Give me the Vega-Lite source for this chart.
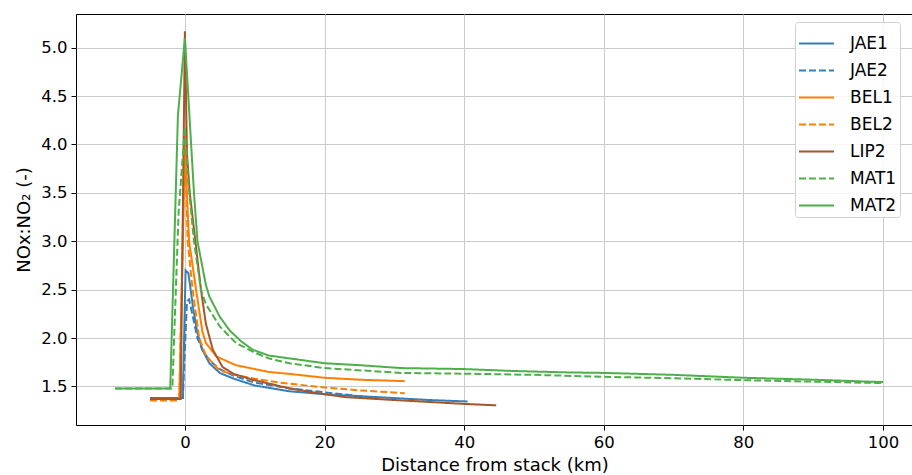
{
  "$schema": "https://vega.github.io/schema/vega-lite/v6.json",
  "autosize": "none",
  "width": 837,
  "height": 411,
  "padding": {"left": 76, "top": 14, "right": 0, "bottom": 50},
  "background": "white",
  "config": {
    "font": "DejaVu Sans",
    "view": {"stroke": "black", "strokeWidth": 1}
  },
  "data": {"values": [
    {"s":"JAE1","x":-5,"y":1.38},{"s":"JAE1","x":-0.3,"y":1.38},{"s":"JAE1","x":0.1,"y":2.70},{"s":"JAE1","x":0.5,"y":2.67},{"s":"JAE1","x":1.2,"y":2.30},{"s":"JAE1","x":1.8,"y":2.05},{"s":"JAE1","x":2.5,"y":1.88},{"s":"JAE1","x":3.5,"y":1.74},{"s":"JAE1","x":5,"y":1.64},{"s":"JAE1","x":7,"y":1.58},{"s":"JAE1","x":10,"y":1.51},{"s":"JAE1","x":15,"y":1.45},{"s":"JAE1","x":20,"y":1.42},{"s":"JAE1","x":25,"y":1.40},{"s":"JAE1","x":30,"y":1.38},{"s":"JAE1","x":35,"y":1.36},{"s":"JAE1","x":40.5,"y":1.345},
    {"s":"JAE2","x":-5,"y":1.38},{"s":"JAE2","x":-0.3,"y":1.38},{"s":"JAE2","x":0.3,"y":2.38},{"s":"JAE2","x":0.6,"y":2.40},{"s":"JAE2","x":1.2,"y":2.20},{"s":"JAE2","x":1.8,"y":2.00},{"s":"JAE2","x":2.5,"y":1.88},{"s":"JAE2","x":3.5,"y":1.77},{"s":"JAE2","x":5,"y":1.68},{"s":"JAE2","x":7,"y":1.61},{"s":"JAE2","x":10,"y":1.54},{"s":"JAE2","x":15,"y":1.48},{"s":"JAE2","x":20,"y":1.44},{"s":"JAE2","x":27,"y":1.385},
    {"s":"BEL1","x":-5,"y":1.37},{"s":"BEL1","x":-0.8,"y":1.37},{"s":"BEL1","x":0,"y":3.95},{"s":"BEL1","x":0.6,"y":3.0},{"s":"BEL1","x":1.6,"y":2.5},{"s":"BEL1","x":2.5,"y":2.07},{"s":"BEL1","x":3,"y":1.95},{"s":"BEL1","x":4.5,"y":1.81},{"s":"BEL1","x":7.3,"y":1.72},{"s":"BEL1","x":10,"y":1.68},{"s":"BEL1","x":12,"y":1.65},{"s":"BEL1","x":15,"y":1.63},{"s":"BEL1","x":20,"y":1.59},{"s":"BEL1","x":25,"y":1.57},{"s":"BEL1","x":31.5,"y":1.555},
    {"s":"BEL2","x":-5,"y":1.355},{"s":"BEL2","x":-0.8,"y":1.355},{"s":"BEL2","x":0,"y":4.15},{"s":"BEL2","x":0.4,"y":3.0},{"s":"BEL2","x":1.1,"y":2.5},{"s":"BEL2","x":2.05,"y":2.0},{"s":"BEL2","x":3,"y":1.82},{"s":"BEL2","x":4.9,"y":1.67},{"s":"BEL2","x":7,"y":1.62},{"s":"BEL2","x":10,"y":1.58},{"s":"BEL2","x":13.5,"y":1.54},{"s":"BEL2","x":20,"y":1.49},{"s":"BEL2","x":25,"y":1.46},{"s":"BEL2","x":31.5,"y":1.43},
    {"s":"LIP2","x":-5,"y":1.37},{"s":"LIP2","x":-0.6,"y":1.37},{"s":"LIP2","x":0,"y":5.17},{"s":"LIP2","x":0.3,"y":3.9},{"s":"LIP2","x":0.7,"y":3.5},{"s":"LIP2","x":1.5,"y":3.0},{"s":"LIP2","x":2.3,"y":2.5},{"s":"LIP2","x":3,"y":2.15},{"s":"LIP2","x":4,"y":1.88},{"s":"LIP2","x":5.4,"y":1.70},{"s":"LIP2","x":7,"y":1.63},{"s":"LIP2","x":9.7,"y":1.57},{"s":"LIP2","x":15,"y":1.48},{"s":"LIP2","x":20,"y":1.42},{"s":"LIP2","x":23,"y":1.39},{"s":"LIP2","x":30,"y":1.36},{"s":"LIP2","x":40,"y":1.32},{"s":"LIP2","x":44.6,"y":1.305},
    {"s":"MAT1","x":-10,"y":1.48},{"s":"MAT1","x":-1.8,"y":1.48},{"s":"MAT1","x":-0.9,"y":3.3},{"s":"MAT1","x":0,"y":4.18},{"s":"MAT1","x":0.5,"y":3.6},{"s":"MAT1","x":1.3,"y":3.0},{"s":"MAT1","x":2.3,"y":2.5},{"s":"MAT1","x":3,"y":2.35},{"s":"MAT1","x":5,"y":2.12},{"s":"MAT1","x":7.3,"y":1.95},{"s":"MAT1","x":10,"y":1.85},{"s":"MAT1","x":12,"y":1.79},{"s":"MAT1","x":15,"y":1.74},{"s":"MAT1","x":20,"y":1.69},{"s":"MAT1","x":31,"y":1.64},{"s":"MAT1","x":42,"y":1.63},{"s":"MAT1","x":50,"y":1.62},{"s":"MAT1","x":60,"y":1.60},{"s":"MAT1","x":70,"y":1.585},{"s":"MAT1","x":80,"y":1.565},{"s":"MAT1","x":90,"y":1.55},{"s":"MAT1","x":100,"y":1.535},
    {"s":"MAT2","x":-10,"y":1.48},{"s":"MAT2","x":-2.1,"y":1.48},{"s":"MAT2","x":-1.0,"y":4.3},{"s":"MAT2","x":0,"y":5.1},{"s":"MAT2","x":1.3,"y":3.5},{"s":"MAT2","x":1.8,"y":3.0},{"s":"MAT2","x":3,"y":2.55},{"s":"MAT2","x":3.5,"y":2.43},{"s":"MAT2","x":5,"y":2.22},{"s":"MAT2","x":6.4,"y":2.08},{"s":"MAT2","x":8,"y":1.97},{"s":"MAT2","x":9.7,"y":1.88},{"s":"MAT2","x":12,"y":1.82},{"s":"MAT2","x":15,"y":1.79},{"s":"MAT2","x":20,"y":1.74},{"s":"MAT2","x":25,"y":1.72},{"s":"MAT2","x":31,"y":1.69},{"s":"MAT2","x":40,"y":1.68},{"s":"MAT2","x":47,"y":1.66},{"s":"MAT2","x":55,"y":1.645},{"s":"MAT2","x":60,"y":1.64},{"s":"MAT2","x":70,"y":1.62},{"s":"MAT2","x":80,"y":1.59},{"s":"MAT2","x":90,"y":1.57},{"s":"MAT2","x":100,"y":1.545}
  ]},
  "mark": {"type": "line", "strokeWidth": 2, "clip": true},
  "encoding": {
    "x": {
      "field": "x", "type": "quantitative",
      "scale": {"domain": [-15.6, 104.3], "nice": false, "zero": false},
      "axis": {
        "title": "Distance from stack (km)",
        "values": [0, 20, 40, 60, 80, 100],
        "grid": true, "gridColor": "#cbcbcb", "gridWidth": 1,
        "domain": false,
        "tickColor": "black", "tickSize": 5, "tickWidth": 1,
        "labelFontSize": 16.5, "labelColor": "black", "labelPadding": 4,
        "titleFontSize": 18, "titleFontWeight": "normal", "titleColor": "black", "titlePadding": 6
      }
    },
    "y": {
      "field": "y", "type": "quantitative",
      "scale": {"domain": [1.102, 5.348], "nice": false, "zero": false},
      "axis": {
        "title": "NOx:NO₂ (-)",
        "values": [1.5, 2.0, 2.5, 3.0, 3.5, 4.0, 4.5, 5.0],
        "format": ".1f",
        "grid": true, "gridColor": "#cbcbcb", "gridWidth": 1,
        "domain": false,
        "tickColor": "black", "tickSize": 5, "tickWidth": 1,
        "labelFontSize": 16.5, "labelColor": "black", "labelPadding": 4,
        "titleFontSize": 18, "titleFontWeight": "normal", "titleColor": "black", "titlePadding": 7
      }
    },
    "color": {
      "field": "s", "type": "nominal",
      "scale": {
        "domain": ["JAE1", "JAE2", "BEL1", "BEL2", "LIP2", "MAT1", "MAT2"],
        "range": ["#377eb8", "#377eb8", "#ff7f00", "#ff7f00", "#a65628", "#4daf4a", "#4daf4a"]
      },
      "legend": {
        "title": null,
        "orient": "none",
        "legendX": 719,
        "legendY": 8,
        "symbolType": "stroke",
        "symbolSize": 1225,
        "symbolStrokeWidth": 2,
        "labelFontSize": 17,
        "labelColor": "black",
        "labelOffset": 15,
        "rowPadding": -9,
        "padding": 3,
        "strokeColor": "#d0d0d0",
        "fillColor": "rgba(255,255,255,0.85)",
        "cornerRadius": 3
      }
    },
    "strokeDash": {
      "field": "s", "type": "nominal",
      "scale": {
        "domain": ["JAE1", "JAE2", "BEL1", "BEL2", "LIP2", "MAT1", "MAT2"],
        "range": [[1, 0], [7, 3], [1, 0], [7, 3], [1, 0], [7, 3], [1, 0]]
      }
    }
  }
}
